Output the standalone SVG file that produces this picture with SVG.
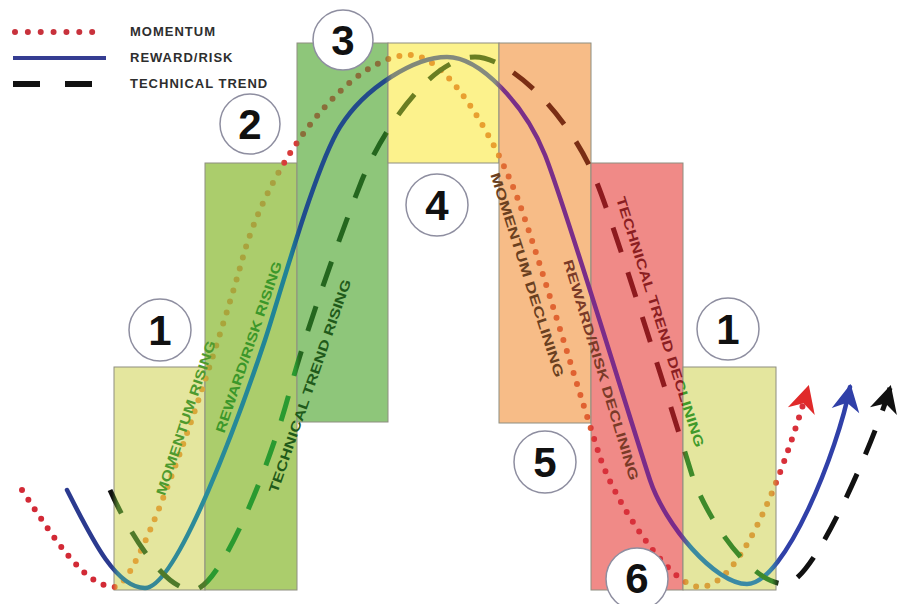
<svg xmlns="http://www.w3.org/2000/svg" width="900" height="604" viewBox="0 0 900 604">
<defs>
<style>
.mom{fill:none;stroke:url(#gM);stroke-width:6;stroke-linecap:round;stroke-dasharray:0 11.5}
.rr{fill:none;stroke:url(#gRR);stroke-width:4.5;stroke-linecap:round}
.tt{fill:none;stroke:url(#gT);stroke-width:5;stroke-dasharray:26 21}
.zone{stroke:#8e8e80;stroke-width:1}
.badge circle{fill:#fff;stroke:#8e8ea0;stroke-width:1.5}
.badge text{font-family:"Liberation Sans",Arial,sans-serif;font-weight:bold;font-size:42px;fill:#111;text-anchor:middle}
.lbl{font-family:"Liberation Sans",Arial,sans-serif;font-weight:bold;font-size:13.5px;text-anchor:middle;dominant-baseline:central}
.leg{font-family:"Liberation Sans",Arial,sans-serif;font-weight:bold;font-size:13px;letter-spacing:1px;fill:#2e2e2e}
</style>
<linearGradient id="gRR" gradientUnits="userSpaceOnUse" x1="0" y1="0" x2="900" y2="0">
<stop offset="0" stop-color="#2b3a8f"/>
<stop offset="0.1244" stop-color="#2b3a8f"/>
<stop offset="0.1311" stop-color="#3c8594"/>
<stop offset="0.2278" stop-color="#2a8c9a"/>
<stop offset="0.3222" stop-color="#1e8296"/>
<stop offset="0.3333" stop-color="#1f4c8e"/>
<stop offset="0.4278" stop-color="#244a8a"/>
<stop offset="0.4356" stop-color="#808878"/>
<stop offset="0.5500" stop-color="#858a80"/>
<stop offset="0.5589" stop-color="#7a3088"/>
<stop offset="0.7556" stop-color="#7a2a8a"/>
<stop offset="0.7667" stop-color="#3a8aa0"/>
<stop offset="0.8556" stop-color="#3a8aa8"/>
<stop offset="0.8667" stop-color="#3040a8"/>
<stop offset="1" stop-color="#3040a8"/>
</linearGradient>
<linearGradient id="gM" gradientUnits="userSpaceOnUse" x1="0" y1="0" x2="900" y2="0">
<stop offset="0" stop-color="#d22a36"/>
<stop offset="0.1244" stop-color="#d22a36"/>
<stop offset="0.1311" stop-color="#e3a43a"/>
<stop offset="0.2278" stop-color="#d8a83a"/>
<stop offset="0.2333" stop-color="#aaa63a"/>
<stop offset="0.3111" stop-color="#a8a040"/>
<stop offset="0.3144" stop-color="#d83a3a"/>
<stop offset="0.3289" stop-color="#d83a3a"/>
<stop offset="0.3333" stop-color="#8a6e3a"/>
<stop offset="0.4278" stop-color="#8a6e3a"/>
<stop offset="0.4356" stop-color="#e8a030"/>
<stop offset="0.5511" stop-color="#e8a030"/>
<stop offset="0.5589" stop-color="#e06a34"/>
<stop offset="0.6533" stop-color="#e06030"/>
<stop offset="0.66" stop-color="#d8303a"/>
<stop offset="0.7556" stop-color="#d8303a"/>
<stop offset="0.7622" stop-color="#d8a03a"/>
<stop offset="0.8578" stop-color="#d8a03a"/>
<stop offset="0.8667" stop-color="#d8303a"/>
<stop offset="1" stop-color="#d8303a"/>
</linearGradient>
<linearGradient id="gT" gradientUnits="userSpaceOnUse" x1="0" y1="0" x2="900" y2="0">
<stop offset="0" stop-color="#111"/>
<stop offset="0.1244" stop-color="#111"/>
<stop offset="0.1311" stop-color="#4f7a2a"/>
<stop offset="0.2278" stop-color="#4f7a2a"/>
<stop offset="0.2322" stop-color="#2a9a30"/>
<stop offset="0.3278" stop-color="#2a9a30"/>
<stop offset="0.3333" stop-color="#24661e"/>
<stop offset="0.4278" stop-color="#24661e"/>
<stop offset="0.4356" stop-color="#6a7e22"/>
<stop offset="0.5511" stop-color="#6a7e22"/>
<stop offset="0.5589" stop-color="#7a2e14"/>
<stop offset="0.6533" stop-color="#7a2e14"/>
<stop offset="0.66" stop-color="#8e1a1e"/>
<stop offset="0.7556" stop-color="#8e1a1e"/>
<stop offset="0.7622" stop-color="#3e8a2a"/>
<stop offset="0.8578" stop-color="#3e8a2a"/>
<stop offset="0.8667" stop-color="#111"/>
<stop offset="1" stop-color="#111"/>
</linearGradient>
<marker id="ahR" markerUnits="userSpaceOnUse" markerWidth="40" markerHeight="40" viewBox="-30 -20 40 40" refX="0" refY="0" orient="auto"><path d="M3,0 L-24,-14 L-16,0 L-24,14 Z" fill="#e02a2a"/></marker>
<marker id="ahB" markerUnits="userSpaceOnUse" markerWidth="40" markerHeight="40" viewBox="-30 -20 40 40" refX="0" refY="0" orient="auto"><path d="M3,0 L-24,-14 L-16,0 L-24,14 Z" fill="#3040a8"/></marker>
<marker id="ahK" markerUnits="userSpaceOnUse" markerWidth="40" markerHeight="40" viewBox="-30 -20 40 40" refX="0" refY="0" orient="auto"><path d="M3,0 L-24,-14 L-16,0 L-24,14 Z" fill="#111"/></marker>
<clipPath id="clipF"><rect x="0" y="0" width="683" height="604"/></clipPath>
<clipPath id="clipG"><rect x="683" y="0" width="217" height="604"/></clipPath>
</defs>
<rect width="900" height="604" fill="#fff"/>

<g id="legend">
<line x1="15" y1="32" x2="105" y2="32" stroke="#c8323c" stroke-width="6" stroke-linecap="round" stroke-dasharray="0 12.86"/>
<line x1="13" y1="58" x2="106" y2="58" stroke="#353d92" stroke-width="4"/>
<line x1="13" y1="84" x2="92" y2="84" stroke="#111" stroke-width="6" stroke-dasharray="27 25"/>
<text class="leg" x="130" y="36">MOMENTUM</text>
<text class="leg" x="130" y="62">REWARD/RISK</text>
<text class="leg" x="130" y="88">TECHNICAL TREND</text>
</g>

<g id="zones">
<rect id="zone-a" class="zone" x="114" y="367" width="91" height="223" fill="#e4e69e"/>
<rect id="zone-b" class="zone" x="205" y="163" width="92" height="427" fill="#abcd6c"/>
<rect id="zone-c" class="zone" x="297" y="43" width="91" height="379" fill="#8ec67a"/>
<rect id="zone-d" class="zone" x="388" y="43" width="111" height="120" fill="#fcf28c"/>
<rect id="zone-e" class="zone" x="499" y="43" width="92" height="380" fill="#f7bc87"/>
<rect id="zone-f" class="zone" x="591" y="163" width="92" height="427" fill="#f08a87"/>
<rect id="zone-g" class="zone" x="683" y="367" width="93" height="223" fill="#e4e69e"/>
</g>

<g id="connectors">
<path id="momentum" class="mom" d="M22,490 C55,540 85,587 115,587 C140,587 218,347 243,257 C270,160 350,55 410,55 C450,55 500,149 520,205 C540,261 585,412 600,457 C615,502 670,587 700,587 C745,587 790,450 808,388" marker-end="url(#ahR)"/>
<path id="rewardrisk" class="rr" d="M67,490 C90,535 115,588 145,588 C177,588 240,415 265,340 C280,295 315,167 340,127 C365,87 415,57 447,57 C480,57 525,105 545,155 C565,205 632,426 650,480 C665,525 715,584 747,584 C785,584 838,450 850,387" marker-end="url(#ahB)"/>
<path id="technical" class="tt" d="M110,490 C130,535 165,590 193,590 C220,590 270,466 290,390 C305,333 344,225 362,180 C380,135 430,57 475,57 C510,57 570,115 597,183 C617,233 678,430 692,475 C705,515 750,584 785,584 C815,584 878,430 890,388" marker-end="url(#ahK)"/>
</g>

<g id="labels">
<text id="lbl-mr" class="lbl" fill="#4e9a2e" textLength="162" lengthAdjust="spacingAndGlyphs" transform="translate(186,418) rotate(-71.7)">MOMENTUM RISING</text>
<text id="lbl-rrr" class="lbl" fill="#3b972a" textLength="180" lengthAdjust="spacingAndGlyphs" transform="translate(249,347) rotate(-71.2)">REWARD/RISK RISING</text>
<text id="lbl-ttr" class="lbl" fill="#1f5a1a" textLength="225" lengthAdjust="spacingAndGlyphs" transform="translate(310,386) rotate(-70.8)">TECHNICAL TREND RISING</text>
<text id="lbl-md" class="lbl" fill="#6a4020" textLength="214" lengthAdjust="spacingAndGlyphs" transform="translate(527,275) rotate(72.3)">MOMENTUM DECLINING</text>
<text id="lbl-rrd" class="lbl" fill="#7a3a28" textLength="230" lengthAdjust="spacingAndGlyphs" transform="translate(601,370) rotate(73.1)">REWARD/RISK DECLINING</text>
<g id="lbl-ttd">
<g clip-path="url(#clipF)"><text class="lbl" fill="#8b1e22" textLength="262" lengthAdjust="spacingAndGlyphs" transform="translate(660,322) rotate(72.3)">TECHNICAL TREND DECLINING</text></g>
<g clip-path="url(#clipG)"><text class="lbl" fill="#3f9a2a" textLength="262" lengthAdjust="spacingAndGlyphs" transform="translate(660,322) rotate(72.3)">TECHNICAL TREND DECLINING</text></g>
</g>
</g>

<g id="badge-1a" class="badge"><circle cx="160" cy="330" r="31"/><text x="160" y="345">1</text></g>
<g id="badge-2" class="badge"><circle cx="250" cy="124" r="30"/><text x="250" y="139">2</text></g>
<g id="badge-3" class="badge"><circle cx="343" cy="40" r="30"/><text x="343" y="55">3</text></g>
<g id="badge-4" class="badge"><circle cx="437" cy="205" r="31"/><text x="437" y="220">4</text></g>
<g id="badge-5" class="badge"><circle cx="545" cy="462" r="31"/><text x="545" y="477">5</text></g>
<g id="badge-1b" class="badge"><circle cx="728" cy="329" r="31"/><text x="728" y="344">1</text></g>
<g id="badge-6" class="badge"><circle cx="637" cy="579" r="31"/><text x="637" y="593">6</text></g>
</svg>
